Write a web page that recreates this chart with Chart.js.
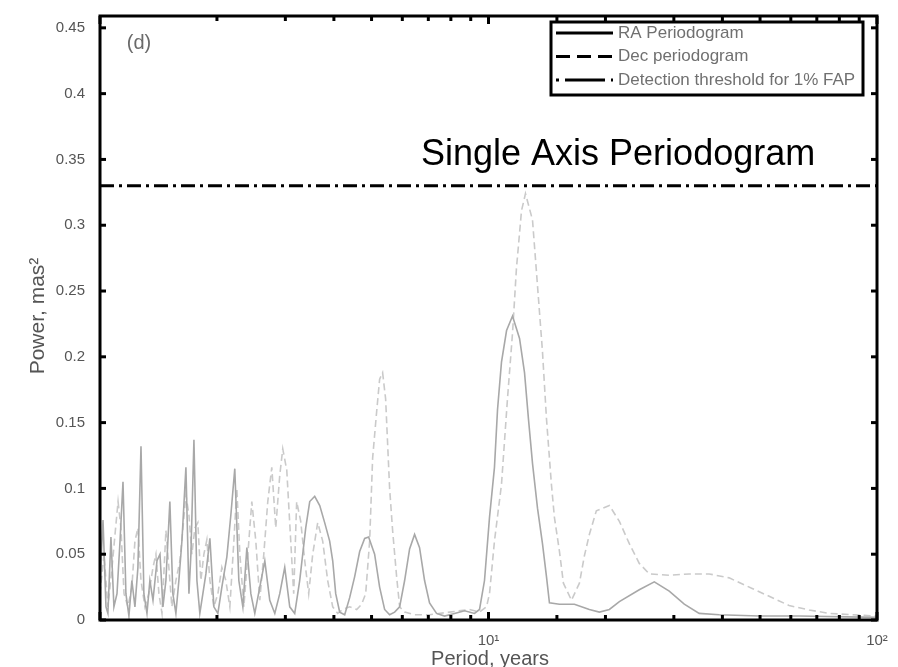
<!DOCTYPE html>
<html>
<head>
<meta charset="utf-8">
<script src="https://cdn.jsdelivr.net/npm/chart.js@4"></script>
<style>
  body { margin: 0; background: #fff; }
  #wrap { width: 898px; height: 667px; position: relative; }
</style>
</head>
<body>
<div id="wrap"><canvas id="chart"></canvas></div>
<script>
    // RA periodogram (solid)
    const raPeriod = [1.00, 1.018, 1.036, 1.048, 1.067, 1.086, 1.106, 1.126, 1.146, 1.166, 1.187, 1.208, 1.230, 1.252, 1.275, 1.297, 1.321, 1.344, 1.369, 1.402,
        1.427, 1.452, 1.478, 1.513, 1.540, 1.568, 1.596, 1.625, 1.664, 1.694, 1.714, 1.745, 1.776, 1.807, 1.840, 1.873, 1.918, 1.964, 2.011, 2.059,
        2.121, 2.172, 2.223, 2.277, 2.332, 2.388, 2.445, 2.503, 2.578, 2.656, 2.735, 2.818, 2.902, 2.989, 3.079, 3.171, 3.266, 3.385, 3.466, 3.570,
        3.678, 3.787, 3.901, 3.972, 4.043, 4.140, 4.264, 4.392, 4.524, 4.660, 4.800, 4.914, 5.092, 5.245, 5.403, 5.565, 5.733, 5.906, 6.083, 6.265,
        6.453, 6.646, 6.846, 7.051, 7.350, 7.707, 8.176, 8.676, 9.205, 9.482, 9.766, 10.06, 10.36, 10.55, 10.80, 11.13, 11.53, 12.02, 12.38, 12.67,
        12.98, 13.37, 13.77, 14.10, 14.35, 15.23, 16.64, 18.18, 19.29, 20.47, 21.72, 24.44, 26.72, 29.19, 31.91, 34.86, 39.25, 49.75, 63.02, 100];
    const raPower = [0.03, 0.076, 0.01, 0.005, 0.063, 0.01, 0.02, 0.06, 0.105, 0.02, 0.003, 0.03, 0.01, 0.04, 0.132, 0.02, 0.005, 0.03, 0.015, 0.045,
        0.05, 0.01, 0.03, 0.09, 0.02, 0.005, 0.03, 0.06, 0.116, 0.02, 0.05, 0.137, 0.03, 0.005, 0.02, 0.035, 0.062, 0.01, 0.005, 0.025,
        0.048, 0.08, 0.115, 0.03, 0.01, 0.055, 0.02, 0.005, 0.025, 0.045, 0.015, 0.005, 0.02, 0.04, 0.01, 0.005, 0.03, 0.07, 0.09, 0.094,
        0.087, 0.074, 0.06, 0.045, 0.02, 0.006, 0.004, 0.017, 0.033, 0.052, 0.062, 0.063, 0.05, 0.025, 0.008, 0.004, 0.006, 0.01, 0.03, 0.054,
        0.065, 0.055, 0.03, 0.013, 0.005, 0.003, 0.005, 0.007, 0.005, 0.008, 0.03, 0.078, 0.116, 0.16, 0.196, 0.22, 0.231, 0.214, 0.188, 0.153,
        0.119, 0.085, 0.058, 0.033, 0.013, 0.012, 0.012, 0.008, 0.006, 0.008, 0.014, 0.023, 0.029, 0.022, 0.012, 0.005, 0.004, 0.003, 0.003, 0.002];

    // Dec periodogram (dashed)
    const decPeriod = [1.00, 1.024, 1.048, 1.074, 1.093, 1.113, 1.132, 1.153, 1.180, 1.208, 1.230, 1.252, 1.275, 1.305, 1.336, 1.369, 1.393, 1.418, 1.444, 1.478,
        1.504, 1.531, 1.568, 1.606, 1.635, 1.664, 1.694, 1.724, 1.755, 1.786, 1.818, 1.851, 1.884, 1.918, 1.964, 2.011, 2.059, 2.108, 2.159, 2.211,
        2.250, 2.291, 2.346, 2.402, 2.459, 2.518, 2.578, 2.640, 2.703, 2.768, 2.834, 2.902, 2.954, 3.025, 3.097, 3.152, 3.208, 3.286, 3.365, 3.445,
        3.528, 3.634, 3.743, 3.855, 3.972, 4.091, 4.214, 4.392, 4.578, 4.716, 4.829, 4.944, 5.032, 5.152, 5.245, 5.339, 5.435, 5.565, 5.665, 5.801,
        5.906, 6.083, 6.453, 7.051, 7.937, 8.938, 9.482, 9.883, 10.06, 10.36, 10.80, 11.19, 11.53, 11.80, 12.16, 12.45, 12.98, 13.37, 13.77, 14.10,
        14.52, 14.78, 15.23, 15.59, 16.35, 17.14, 17.66, 18.18, 18.95, 20.47, 21.72, 23.04, 24.44, 25.94, 29.19, 32.87, 36.99, 41.64, 47.71, 52.78,
        59.39, 66.86, 75.28, 100];
    const decPower = [0.02, 0.05, 0.01, 0.04, 0.065, 0.09, 0.07, 0.02, 0.01, 0.025, 0.06, 0.07, 0.03, 0.01, 0.02, 0.04, 0.05, 0.02, 0.005, 0.068,
        0.04, 0.01, 0.03, 0.045, 0.07, 0.095, 0.08, 0.05, 0.07, 0.074, 0.03, 0.05, 0.061, 0.03, 0.01, 0.02, 0.04, 0.03, 0.01, 0.06,
        0.1, 0.05, 0.01, 0.05, 0.09, 0.06, 0.015, 0.05, 0.09, 0.116, 0.07, 0.11, 0.13, 0.114, 0.06, 0.02, 0.09, 0.075, 0.045, 0.02,
        0.05, 0.074, 0.06, 0.03, 0.01, 0.005, 0.008, 0.01, 0.008, 0.012, 0.02, 0.06, 0.123, 0.158, 0.183, 0.188, 0.168, 0.1, 0.068, 0.033,
        0.01, 0.006, 0.004, 0.004, 0.006, 0.008, 0.006, 0.01, 0.02, 0.06, 0.103, 0.168, 0.218, 0.267, 0.311, 0.324, 0.304, 0.254, 0.204, 0.153,
        0.103, 0.078, 0.052, 0.028, 0.015, 0.028, 0.049, 0.065, 0.083, 0.087, 0.075, 0.058, 0.043, 0.035, 0.034, 0.035, 0.035, 0.032, 0.024, 0.018,
        0.011, 0.0076, 0.005, 0.003];

    // 1% FAP detection threshold
    const faPeriod = [1, 100];
    const faPower = [0.33, 0.33];

    const labels = ['RA Periodogram', 'Dec periodogram', 'Detection threshold for 1% FAP'];
    const font = 'Liberation Sans, Arial, sans-serif';

    const pts = (xs, ys) => xs.map((x, i) => ({ x: x, y: ys[i] }));

    // frame, inner ticks, legend and texts
    const decor = {
        id: 'decor',
        afterDraw(chart) {
            const { ctx, chartArea: a, scales: { x, y } } = chart;
            const line = (x1, y1, x2, y2) => { ctx.beginPath(); ctx.moveTo(x1, y1); ctx.lineTo(x2, y2); ctx.stroke(); };
            ctx.save();
            ctx.strokeStyle = '#000';
            ctx.lineWidth = 3;
            ctx.setLineDash([]);
            ctx.strokeRect(a.left, a.top, a.right - a.left, a.bottom - a.top);

            y.ticks.forEach(t => {
                const py = y.getPixelForValue(t.value);
                line(a.left, py, a.left + 6, py);
                line(a.right, py, a.right - 6, py);
            });
            x.ticks.forEach(t => {
                const px = x.getPixelForValue(t.value);
                const major = Math.abs(Math.log10(t.value) % 1) < 1e-9;
                const len = major ? 8 : 5;
                line(px, a.bottom, px, a.bottom - len);
                line(px, a.top, px, a.top + len);
            });

            // legend box
            const lx = 551, ly = 22, lw = 312, lh = 73;
            ctx.fillStyle = '#fff';
            ctx.fillRect(lx, ly, lw, lh);
            ctx.strokeRect(lx, ly, lw, lh);
            const dashes = [[], [14, 7], [3, 6, 40, 6]];
            ctx.font = '17px ' + font;
            ctx.textBaseline = 'middle';
            labels.forEach((txt, i) => {
                const ry = 33 + i * 23.5;
                ctx.setLineDash(dashes[i]);
                ctx.strokeStyle = '#000';
                ctx.lineWidth = 3;
                line(556, ry, 613, ry);
                ctx.setLineDash([]);
                ctx.fillStyle = '#707070';
                ctx.fillText(txt, 618, ry);
            });

            // panel label
            ctx.fillStyle = '#6a6a6a';
            ctx.font = '20px ' + font;
            ctx.textAlign = 'center';
            ctx.fillText('(d)', 139, 43);

            // big title
            ctx.fillStyle = '#000';
            ctx.font = '36px ' + font;
            ctx.textAlign = 'left';
            ctx.textBaseline = 'alphabetic';
            ctx.fillText('Single Axis Periodogram', 421, 165);

            // axis titles
            ctx.fillStyle = '#555';
            ctx.font = '20px ' + font;
            ctx.textAlign = 'center';
            ctx.fillText('Period, years', 490, 665);
            ctx.translate(44, 316);
            ctx.rotate(-Math.PI / 2);
            ctx.font = '21px ' + font;
            ctx.fillText('Power, mas²', 0, 0);
            ctx.restore();
        }
    };

    const ctx = document.getElementById('chart').getContext('2d');
    const chart = new Chart(ctx, {
        type: 'line',
        data: {
            datasets: [{
                label: labels[0],
                data: pts(raPeriod, raPower),
                borderColor: '#a8a8a8',
                borderWidth: 1.6,
                pointRadius: 0,
                tension: 0
            }, {
                label: labels[1],
                data: pts(decPeriod, decPower),
                borderColor: '#cacaca',
                borderWidth: 1.6,
                borderDash: [7, 4],
                pointRadius: 0,
                tension: 0
            }, {
                label: labels[2],
                data: pts(faPeriod, faPower),
                borderColor: '#000',
                borderWidth: 3,
                borderDash: [14, 5, 3, 5],
                pointRadius: 0,
                tension: 0
            }]
        },
        options: {
            responsive: true,
            maintainAspectRatio: false,
            animation: false,
            layout: { padding: { top: 11, right: 21, left: 0, bottom: 0 } },
            plugins: { legend: { display: false }, tooltip: { enabled: false } },
            scales: {
                x: {
                    type: 'logarithmic',
                    min: 1,
                    max: 100,
                    grid: { display: false },
                    border: { display: false },
                    afterFit: s => { s.height = 47; },
                    ticks: {
                        autoSkip: false,
                        maxRotation: 0,
                        padding: 4,
                        color: '#555',
                        font: { family: font, size: 15 },
                        callback: v => v === 10 ? '10¹' : (v === 100 ? '10²' : '')
                    }
                },
                y: {
                    min: 0,
                    max: 0.459,
                    grid: { display: false },
                    border: { display: false },
                    afterFit: s => { s.width = 100; },
                    ticks: {
                        stepSize: 0.05,
                        includeBounds: false,
                        padding: 7,
                        color: '#555',
                        font: { family: font, size: 15 },
                        callback: v => String(+v.toFixed(2))
                    }
                }
            }
        },
        plugins: [decor]
    });
</script>
</body>
</html>
